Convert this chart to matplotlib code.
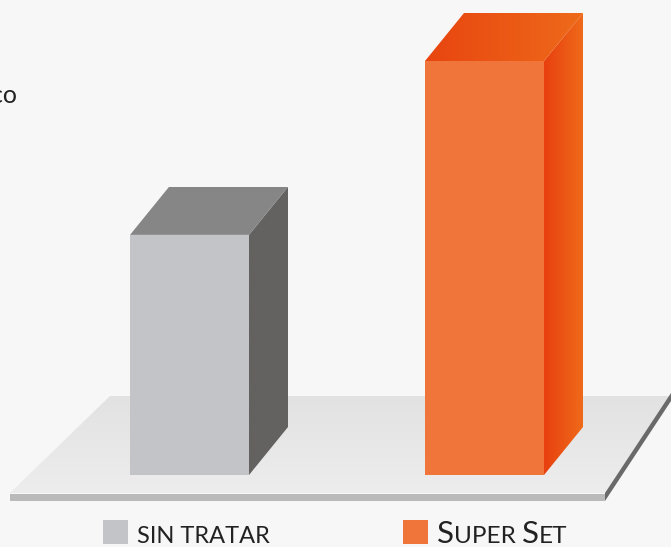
import matplotlib
matplotlib.use("Agg")
import matplotlib.pyplot as plt
import numpy as np
from matplotlib.patches import Polygon
from matplotlib.colors import LinearSegmentedColormap

# ---- data ----
categories = ["SIN TRATAR", "SUPER SET"]
values = [58, 100]            # relative bar heights
front_colors = ["#C3C4C7", "#EF753A"]
side_colors = [["#646260", "#646260"], ["#E8400F", "#EF6A1A"]]
top_colors = [["#868686", "#868686"], ["#E84510", "#EE6A1A"]]
legend_parts = [[("SIN TRATAR", 1.0)],
                [("S", 1.0), ("UPER ", 0.78), ("S", 1.0), ("ET", 0.78)]]
legend_sizes = [17, 22.5]

W, H = 671, 547
fig = plt.figure(figsize=(W / 100, H / 100), dpi=100)
fig.patch.set_facecolor("#F7F7F7")
ax = fig.add_axes([0, 0, 1, 1])
ax.set_xlim(0, W)
ax.set_ylim(H, 0)   # pixel-like coordinates, y downward
ax.axis("off")

def grad_fill(poly_pts, c0, c1, direction="x", z=1):
    poly = Polygon(poly_pts, closed=True, facecolor="none", edgecolor="none", zorder=z)
    ax.add_patch(poly)
    xs = [p[0] for p in poly_pts]; ys = [p[1] for p in poly_pts]
    cmap = LinearSegmentedColormap.from_list("g", [c0, c1])
    if direction == "x":
        arr = np.linspace(0, 1, 256).reshape(1, -1)
    else:
        arr = np.linspace(0, 1, 256).reshape(-1, 1)
    im = ax.imshow(arr, cmap=cmap, extent=[min(xs), max(xs), max(ys), min(ys)],
                   aspect="auto", zorder=z, interpolation="bilinear")
    im.set_clip_path(poly)
    ax.set_xlim(0, W); ax.set_ylim(H, 0)

# ---- floor ----
grad_fill([(110, 396), (671, 396), (671, 400), (605, 493), (10, 493)],
          "#E2E2E2", "#EDEDED", direction="y", z=1)
ax.add_patch(Polygon([(10, 494), (605, 494), (605, 501), (10, 501)], closed=True,
                     facecolor="#B9BAB9", edgecolor="none", zorder=1))
ax.add_patch(Polygon([(605, 493), (671, 393), (671, 401), (605, 501)], closed=True,
                     facecolor="#6A6A6A", edgecolor="none", zorder=1))

# ---- bars ----
base_y = 475
scale = 4.14
bar_x = [130, 425]
bar_w = 119
dx, dy = 39, 48
for i, v in enumerate(values):
    x0 = bar_x[i]
    x1 = x0 + bar_w
    top = base_y - v * scale
    ax.add_patch(Polygon([(x0, top), (x1, top), (x1, base_y), (x0, base_y)], closed=True,
                         facecolor=front_colors[i], edgecolor="none", zorder=3))
    grad_fill([(x1, top), (x1 + dx, top - dy), (x1 + dx, base_y - dy), (x1, base_y)],
              side_colors[i][0], side_colors[i][1], "x", z=3)
    grad_fill([(x0, top), (x1, top), (x1 + dx, top - dy), (x0 + dx, top - dy)],
              top_colors[i][0], top_colors[i][1], "x", z=3)

# ---- stray text at left (cut off in original) ----
ax.text(17, 103, "co", ha="right", va="baseline", fontsize=18, color="#222222",
        family="Lato", zorder=5)

# ---- legend ----
leg_sq_x = [103, 403]
for i in range(2):
    ax.add_patch(Polygon([(leg_sq_x[i], 520), (leg_sq_x[i] + 25, 520),
                          (leg_sq_x[i] + 25, 544), (leg_sq_x[i], 544)], closed=True,
                         facecolor=front_colors[i], edgecolor="none", zorder=5))

fig.canvas.draw()
renderer = fig.canvas.get_renderer()
for i in range(2):
    x = leg_sq_x[i] + 34
    for txt, rel in legend_parts[i]:
        t = ax.text(x, 543, txt, ha="left", va="baseline", fontsize=legend_sizes[i] * rel,
                    color="#222222", family="Lato", zorder=5)
        bb = t.get_window_extent(renderer=renderer)
        x += bb.width  # 1 px == 1 data unit here

fig.savefig("out.png", dpi=100, facecolor=fig.get_facecolor())
